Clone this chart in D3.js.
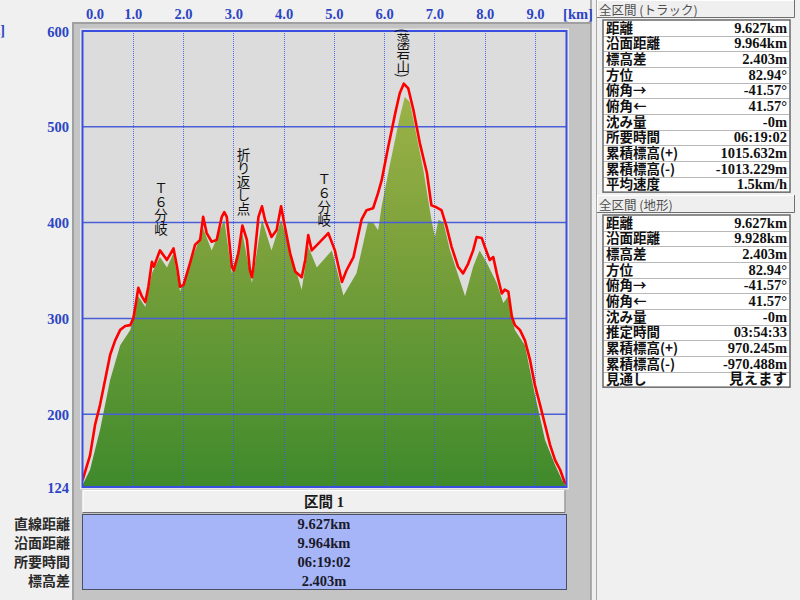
<!DOCTYPE html>
<html>
<head>
<meta charset="utf-8">
<script src="https://cdn.jsdelivr.net/npm/d3@7"></script>
<style>
html,body{margin:0;padding:0;background:#f0f0f0;}
svg{display:block;}
.vt{writing-mode:vertical-rl;text-orientation:mixed;}
</style>
</head>
<body>
<svg id="chart" width="800" height="600"></svg>
<script>
// ---------------- DATA ----------------
const kmTicks = [0,1,2,3,4,5,6,7,8,9];
const elevTicks = [124,200,300,400,500,600];
const kmMax = 9.627;
const elevMin = 124, elevMax = 600;

// Track (red line)
const trackKm = [0.00,0.15,0.25,0.35,0.45,0.55,0.65,0.75,0.85,0.95,1.01,1.05,1.11,1.18,1.25,1.31,1.38,1.42,1.54,1.68,1.81,1.88,1.94,2.01,2.14,2.24,2.34,2.40,2.47,2.57,2.67,2.77,2.82,2.87,2.97,3.01,3.10,3.18,3.27,3.33,3.37,3.40,3.50,3.57,3.63,3.76,3.86,3.95,4.01,4.13,4.23,4.36,4.43,4.49,4.56,4.69,4.89,5.02,5.16,5.25,5.39,5.55,5.65,5.78,5.88,5.95,6.08,6.22,6.31,6.39,6.48,6.58,6.71,6.85,6.94,7.04,7.14,7.24,7.34,7.47,7.57,7.67,7.77,7.84,7.94,8.00,8.10,8.17,8.24,8.34,8.40,8.47,8.54,8.60,8.70,8.80,8.90,9.00,9.10,9.20,9.30,9.40,9.50,9.59,9.627];
const trackElev = [131,157,189,210,236,262,277,288,292,293,300,312,332,323,317,333,359,354,371,361,373,354,333,335,358,377,382,406,389,380,382,406,411,406,354,350,368,397,382,350,343,354,406,417,403,385,392,417,400,368,349,343,361,387,371,378,389,371,338,350,364,403,413,415,431,444,479,514,535,545,540,518,483,452,418,416,413,396,375,354,347,357,371,385,384,375,361,364,347,326,330,328,302,293,288,277,257,230,210,189,168,152,142,129,127];

// Terrain (green area)
const terrainKm = [0.00,0.15,0.35,0.55,0.75,0.95,1.05,1.11,1.25,1.38,1.54,1.68,1.81,1.94,2.24,2.40,2.57,2.82,2.97,3.18,3.37,3.57,3.76,3.95,4.36,4.49,4.66,4.96,5.19,5.45,5.68,5.78,5.88,5.95,6.12,6.31,6.41,6.51,6.61,6.78,6.94,7.01,7.08,7.18,7.31,7.61,7.77,7.90,8.04,8.24,8.37,8.47,8.54,8.60,8.80,9.00,9.20,9.40,9.54,9.627];
const terrainElev = [126,142,184,236,272,288,309,323,312,347,364,353,368,328,371,394,371,403,347,389,337,403,371,403,330,375,353,371,324,347,401,400,392,417,462,510,531,526,500,455,403,385,403,400,371,323,354,371,358,337,316,323,300,288,272,220,173,147,131,124];

// Vertical annotations
const annoText = ["Ｔ６分岐","折り返し点","Ｔ６分岐","(藻岩山)"];
const annoKm = [1.56,3.20,4.81,6.38];
const annoTopElev = [443,478,452,603];

// Right panels
const trackStatLabels = ["距離","沿面距離","標高差","方位","俯角→","俯角←","沈み量","所要時間","累積標高(+)","累積標高(-)","平均速度"];
const trackStatValues = ["9.627km","9.964km","2.403m","82.94°","-41.57°","41.57°","-0m","06:19:02","1015.632m","-1013.229m","1.5km/h"];
const terrainStatLabels = ["距離","沿面距離","標高差","方位","俯角→","俯角←","沈み量","推定時間","累積標高(+)","累積標高(-)","見通し"];
const terrainStatValues = ["9.627km","9.928km","2.403m","82.94°","-41.57°","41.57°","-0m","03:54:33","970.245m","-970.488m","見えます"];
const panelTitles = ["全区間 (トラック)","全区間 (地形)"];

// Section table
const sectionTitle = "区間 1";
const sectionLabels = ["直線距離","沿面距離","所要時間","標高差"];
const sectionValues = ["9.627km","9.964km","06:19:02","2.403m"];

// ---------------- DRAW ----------------
const svg = d3.select("#chart");
const FONT = "'Liberation Serif','Noto Sans CJK JP',serif";
const JFONT = "'Noto Sans CJK JP','Noto Sans',sans-serif";
const axisBlue = "#2c44c4";

const plot = {l:82.5, r:566.5, t:31, b:487};
const x = d3.scaleLinear().domain([0,kmMax]).range([plot.l,plot.r]);
const y = d3.scaleLinear().domain([elevMin,elevMax]).range([plot.b,plot.t]);

// background
svg.append("rect").attr("width",800).attr("height",600).attr("fill","#f0f0f0");
// gray chart panel
svg.append("rect").attr("x",73).attr("y",23).attr("width",518).attr("height",577).attr("fill","#c4c4c4");
svg.append("path").attr("d","M73,600V23H591").attr("fill","none").attr("stroke","#a0a0a0").attr("stroke-width",2);
svg.append("line").attr("x1",591).attr("x2",591).attr("y1",0).attr("y2",600).attr("stroke","#9a9a9a").attr("stroke-width",1.5);
svg.append("line").attr("x1",596.5).attr("x2",596.5).attr("y1",0).attr("y2",600).attr("stroke","#a8a8a8").attr("stroke-width",1);

// plot background
svg.append("rect").attr("x",80).attr("y",28.5).attr("width",489).attr("height",461).attr("fill","#e6e6e6");
svg.append("rect").attr("x",plot.l).attr("y",plot.t).attr("width",plot.r-plot.l).attr("height",plot.b-plot.t).attr("fill","#dcdcdc");

// gradient
const defs = svg.append("defs");
const grad = defs.append("linearGradient").attr("id","g").attr("gradientUnits","userSpaceOnUse")
  .attr("x1",0).attr("x2",0).attr("y1",y(600)).attr("y2",y(124));
grad.append("stop").attr("offset","0%").attr("stop-color","#a9ba4c");
grad.append("stop").attr("offset","45%").attr("stop-color","#7ea23c");
grad.append("stop").attr("offset","100%").attr("stop-color","#3f8a2c");
defs.append("clipPath").attr("id","clip").append("rect")
  .attr("x",plot.l).attr("y",plot.t).attr("width",plot.r-plot.l).attr("height",plot.b-plot.t);

const gPlot = svg.append("g").attr("clip-path","url(#clip)");

const terrain = terrainKm.map((k,i)=>({k, e:terrainElev[i]}));
const track = trackKm.map((k,i)=>({k, e:trackElev[i]}));

gPlot.append("path").datum(terrain)
  .attr("d", d3.area().x(d=>x(d.k)).y0(y(elevMin)).y1(d=>y(d.e)))
  .attr("fill","url(#g)");

// grid
gPlot.selectAll(".vg").data(kmTicks.filter(d=>d>0)).join("line")
  .attr("x1",d=>Math.round(x(d))+0.5).attr("x2",d=>Math.round(x(d))+0.5)
  .attr("y1",plot.t).attr("y2",plot.b)
  .attr("stroke","#3f5cf0").attr("stroke-width",1).attr("stroke-dasharray","1,1").attr("opacity",0.85);
gPlot.selectAll(".hg").data(elevTicks.filter(d=>d>elevMin && d<elevMax)).join("line")
  .attr("x1",plot.l).attr("x2",plot.r)
  .attr("y1",d=>y(d)).attr("y2",d=>y(d))
  .attr("stroke","#4a5ed8").attr("stroke-width",1.5);

// track line
gPlot.append("path").datum(track)
  .attr("d", d3.line().x(d=>x(d.k)).y(d=>y(d.e)))
  .attr("fill","none").attr("stroke","#ff0000").attr("stroke-width",2.6).attr("stroke-linejoin","round");

// frame
svg.append("rect").attr("x",plot.l).attr("y",plot.t).attr("width",plot.r-plot.l).attr("height",plot.b-plot.t)
  .attr("fill","none").attr("stroke","#3a4ee0").attr("stroke-width",2);

// annotations (vertical text)
svg.selectAll(".anno").data(annoText).join("text")
  .attr("class","vt")
  .attr("x",(d,i)=>x(annoKm[i])).attr("y",(d,i)=>y(annoTopElev[i]))
  .attr("font-family",JFONT).attr("font-size",13.5).attr("fill","#111")
  .text(d=>d);

// top axis
const topAxis = svg.append("g").attr("transform","translate(0,19)")
  .call(d3.axisTop(x).tickValues(kmTicks).tickFormat(d3.format(".1f")).tickSize(0).tickPadding(0));
topAxis.select(".domain").remove();
topAxis.selectAll("text").attr("font-family",FONT).attr("font-weight","bold").attr("font-size",14.5)
  .attr("fill",axisBlue).attr("dy",0)
  .attr("dx",d=>d===0?12:0);
svg.append("text").attr("x",578).attr("y",19).attr("text-anchor","middle")
  .attr("font-family",FONT).attr("font-weight","bold").attr("font-size",14.5).attr("fill",axisBlue).text("[km]");

// left axis
const leftAxis = svg.append("g").attr("transform","translate(69,0)")
  .call(d3.axisLeft(y).tickValues(elevTicks).tickSize(0).tickPadding(0));
leftAxis.select(".domain").remove();
leftAxis.selectAll("text").attr("font-family",FONT).attr("font-weight","bold").attr("font-size",14.5)
  .attr("fill",axisBlue).attr("dy","0.35em");
svg.append("text").attr("x",5).attr("y",35).attr("text-anchor","end")
  .attr("font-family",FONT).attr("font-weight","bold").attr("font-size",14).attr("fill",axisBlue).text("[m]");

// bevel box helper
function bevel(x0,y0,w,h,fill){
  svg.append("rect").attr("x",x0).attr("y",y0).attr("width",w).attr("height",h).attr("fill",fill);
  svg.append("path").attr("d",`M${x0+0.5},${y0+h}V${y0+0.5}H${x0+w}`).attr("fill","none").attr("stroke","#ffffff");
  svg.append("path").attr("d",`M${x0},${y0+h-0.5}H${x0+w-0.5}V${y0}`).attr("fill","none").attr("stroke","#707070");
}

// section table
bevel(82.5,490,483,23,"#f0f0f0");
svg.append("text").attr("x",324).attr("y",507).attr("text-anchor","middle")
  .attr("font-family",FONT).attr("font-weight","bold").attr("font-size",14.5).attr("fill","#1a1a1a").text(sectionTitle);
svg.append("rect").attr("x",82.5).attr("y",514.5).attr("width",484).attr("height",75)
  .attr("fill","#a6b5f8").attr("stroke","#4a4f66").attr("stroke-width",1);
const secRow = d3.scaleBand().domain(d3.range(sectionLabels.length)).range([515,590]);
svg.selectAll(".sv").data(sectionValues).join("text")
  .attr("x",324).attr("y",(d,i)=>secRow(i)+secRow.bandwidth()/2+5).attr("text-anchor","middle")
  .attr("font-family",FONT).attr("font-weight","bold").attr("font-size",14.5).attr("fill","#1a1a2a").text(d=>d);
svg.selectAll(".sl").data(sectionLabels).join("text")
  .attr("x",70).attr("y",(d,i)=>secRow(i)+secRow.bandwidth()/2+5).attr("text-anchor","end")
  .attr("font-family",JFONT).attr("font-weight","bold").attr("font-size",14).attr("fill","#2a2a2a").text(d=>d);

// right panels
function statPanel(title, labels, values, top){
  bevel(597,top,198,18,"#efefef");
  svg.append("text").attr("x",599).attr("y",top+14.5).attr("font-family",JFONT).attr("font-size",12.5)
    .attr("fill","#505050").text(title);
  const t0 = top+20, rh = 15.65;
  const rows = d3.scaleBand().domain(d3.range(labels.length)).range([t0, t0+rh*labels.length]);
  svg.append("rect").attr("x",603).attr("y",t0).attr("width",187).attr("height",rh*labels.length)
    .attr("fill","#ffffff").attr("stroke","#6a6a6a").attr("stroke-width",1.5);
  svg.selectAll(null).data(labels.slice(1)).join("line")
    .attr("x1",604).attr("x2",789).attr("y1",(d,i)=>Math.round(rows(i+1))+0.5).attr("y2",(d,i)=>Math.round(rows(i+1))+0.5)
    .attr("stroke","#b8b8b8").attr("stroke-width",1);
  svg.selectAll(null).data(labels).join("text")
    .attr("x",606).attr("y",(d,i)=>rows(i)+rh/2+5).attr("font-family",JFONT).attr("font-weight","bold")
    .attr("font-size",13.5).attr("fill","#111").text(d=>d);
  svg.selectAll(null).data(values).join("text")
    .attr("x",787).attr("y",(d,i)=>rows(i)+rh/2+5).attr("text-anchor","end").attr("font-family",FONT).attr("font-weight","bold")
    .attr("font-size",14.5).attr("fill","#111").text(d=>d);
}
statPanel(panelTitles[0], trackStatLabels, trackStatValues, 0);
statPanel(panelTitles[1], terrainStatLabels, terrainStatValues, 195);
</script>
</body>
</html>
